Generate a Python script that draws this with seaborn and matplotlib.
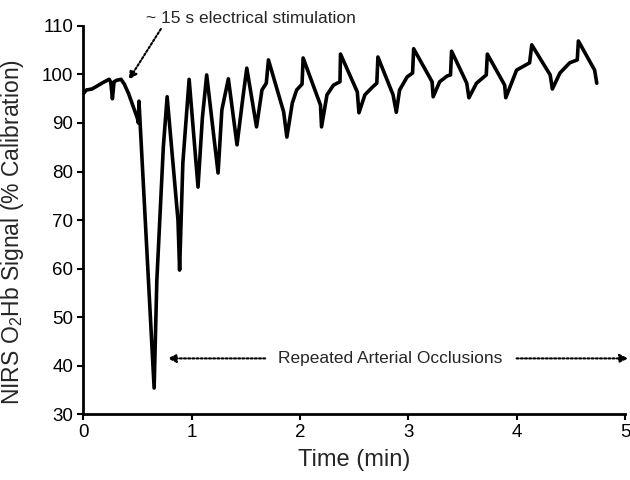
import matplotlib
matplotlib.use("Agg")
import matplotlib.pyplot as plt
import seaborn as sns
import pandas as pd

# Time (min) and NIRS O2Hb signal (% calibration)
time_min = [
    0.00, 0.03, 0.08, 0.12, 0.18, 0.24, 0.255, 0.27, 0.285, 0.31, 0.35, 0.38,
    0.42, 0.46, 0.50, 0.51, 0.515,
    0.655, 0.68, 0.74, 0.775,
    0.875, 0.89, 0.92, 0.978,
    1.06, 1.10, 1.14,
    1.245, 1.28, 1.34,
    1.42, 1.475, 1.51,
    1.60, 1.65, 1.69, 1.71,
    1.85, 1.88, 1.93, 1.97, 2.02, 2.03,
    2.19, 2.20, 2.25, 2.31, 2.37, 2.375,
    2.53, 2.545, 2.60, 2.67, 2.71, 2.72,
    2.86, 2.89, 2.92, 2.99, 3.04, 3.05,
    3.22, 3.23, 3.29, 3.36, 3.39, 3.40,
    3.54, 3.56, 3.63, 3.72, 3.73,
    3.89, 3.90, 4.00, 4.12, 4.14,
    4.31, 4.33, 4.40, 4.49, 4.56, 4.57,
    4.72, 4.74,
]
o2hb_signal = [
    96.0, 96.8, 97.0, 97.5, 98.3, 99.0, 98.4, 95.0, 98.5, 98.8, 99.0, 98.0,
    96.0, 93.5, 91.0, 90.0, 94.5,
    35.4, 57.6, 85.1, 95.4,
    70.0, 59.7, 81.8, 99.0,
    76.8, 91.0, 99.9,
    79.7, 92.7, 99.1,
    85.5, 95.4, 101.3,
    89.2, 96.8, 98.2, 103.0,
    92.3, 87.1, 94.1, 96.8, 98.0, 103.4,
    93.7, 89.2, 95.8, 97.8, 98.5, 104.2,
    96.4, 92.1, 95.8, 97.4, 98.2, 103.6,
    95.8, 92.2, 96.8, 99.5, 100.3, 105.3,
    98.5, 95.4, 98.5, 99.7, 99.9, 104.8,
    98.2, 95.2, 98.2, 99.9, 104.2,
    97.8, 95.2, 100.9, 102.4, 106.1,
    99.9, 97.0, 100.3, 102.4, 103.0, 106.9,
    100.9, 98.2,
]
x_ticks = [0, 1, 2, 3, 4, 5]
y_ticks = [30, 40, 50, 60, 70, 80, 90, 100, 110]

stim_label = "~ 15 s electrical stimulation"
occl_label = "Repeated Arterial Occlusions"

sns.set_style("ticks")
plt.rcParams["font.family"] = ["Liberation Sans", "DejaVu Sans"]
plt.rcParams["mathtext.fontset"] = "custom"
plt.rcParams["mathtext.rm"] = "Liberation Sans"
plt.rcParams["mathtext.it"] = "Liberation Sans:italic"

df = pd.DataFrame({"t": time_min, "v": o2hb_signal})

fig = plt.figure(figsize=(6.3, 4.8), dpi=100)
ax = fig.add_axes([0.132, 0.137, 0.860, 0.809])
sns.lineplot(data=df, x="t", y="v", sort=False, estimator=None,
             color="black", linewidth=2.6, ax=ax)

ax.set_xlim(0, 5)
ax.set_ylim(30, 110)
ax.set_xticks(x_ticks)
ax.set_yticks(y_ticks)
ax.tick_params(axis="both", direction="out", length=4, width=1.5,
               labelsize=13.5, colors="black", pad=3)
for s in ["left", "bottom"]:
    ax.spines[s].set_linewidth(2)
    ax.spines[s].set_color("black")
sns.despine(ax=ax)

ax.set_xlabel("Time (min)", fontsize=17, labelpad=6)
ax.set_ylabel("NIRS O$_2$Hb Signal (% Calibration)", fontsize=16.5)
ax.yaxis.set_label_coords(-0.105, 0.47)

# annotations
ax.annotate(stim_label, xy=(0.42, 98.9), xytext=(1.55, 111.6),
            fontsize=12.5, ha="center", va="center", annotation_clip=False,
            arrowprops=dict(arrowstyle="-|>", linestyle=(0, (1, 1)),
                            color="black", lw=1.5, mutation_scale=12,
                            shrinkA=0, shrinkB=0,
                            relpos=(0.08, 0.0)))

ax.text(2.83, 41.5, occl_label, fontsize=12.5, ha="center", va="center")
ax.annotate("", xy=(0.78, 41.5), xytext=(1.68, 41.5), annotation_clip=False,
            arrowprops=dict(arrowstyle="-|>", linestyle=(0, (1, 1)),
                            color="black", lw=1.5, mutation_scale=12,
                            shrinkA=0, shrinkB=0))
ax.annotate("", xy=(5.03, 41.5), xytext=(4.0, 41.5), annotation_clip=False,
            arrowprops=dict(arrowstyle="-|>", linestyle=(0, (1, 1)),
                            color="black", lw=1.5, mutation_scale=12,
                            shrinkA=0, shrinkB=0))

fig.savefig("out.png", dpi=100)
